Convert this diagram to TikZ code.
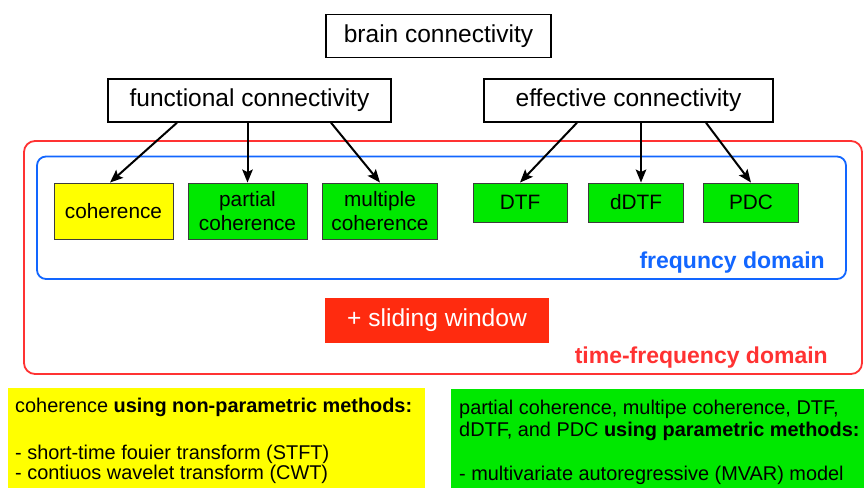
\documentclass[tikz,border=0pt]{standalone}
\usepackage{fontspec}
\setmainfont{Liberation Sans}
\usetikzlibrary{arrows.meta,calc}
\definecolor{boxgreen}{RGB}{0,232,0}
\definecolor{boxyellow}{RGB}{255,255,0}
\definecolor{outred}{RGB}{255,50,50}
\definecolor{inblue}{RGB}{18,102,255}
\definecolor{slidered}{RGB}{255,43,15}
\definecolor{edgegray}{RGB}{60,60,60}
\begin{document}
\begin{tikzpicture}[x=1pt,y=-1pt,
  topbox/.style={draw=black, line width=1.4pt, fill=white, inner sep=0pt,
    font=\fontsize{24.5}{28}\selectfont, minimum height=43pt},
  colbox/.style={draw=edgegray, line width=0.9pt, inner sep=0pt, align=center,
    font=\fontsize{20.8}{24}\selectfont},
  arr/.style={-{Stealth[length=13pt,width=10.5pt,inset=2.5pt]}, line width=2pt},
  domlabel/.style={font=\bfseries\fontsize{23}{27}\selectfont, inner sep=0pt, anchor=base east},
  btxt/.style={font=\fontsize{19.9}{24}\selectfont, inner sep=0pt, anchor=base west}
]
\useasboundingbox (0,0) rectangle (867,488);

% containers
\draw[outred, line width=1.8pt, rounded corners=11pt] (24,141) rectangle (862,374);
\draw[inblue, line width=1.8pt, rounded corners=9pt] (37,156.5) rectangle (846,279);

% top boxes
\node[topbox, minimum width=225pt] (brain) at (438.5,36) {brain connectivity};
\node[topbox, minimum width=283pt] (func) at (249.5,100.5) {functional connectivity};
\node[topbox, minimum width=289pt] (eff) at (628.5,100.5) {effective connectivity};

% method boxes
\node[colbox, fill=boxyellow, minimum width=119pt, minimum height=56pt] (coh) at (113.5,211) {coherence};
\node[colbox, fill=boxgreen, minimum width=119pt, minimum height=56pt] (part) at (247.5,211) {partial\\coherence};
\node[colbox, fill=boxgreen, minimum width=115pt, minimum height=56pt] (mult) at (380,211) {multiple\\coherence};
\node[colbox, fill=boxgreen, minimum width=94pt, minimum height=39pt] (dtf) at (520,202.5) {DTF};
\node[colbox, fill=boxgreen, minimum width=95pt, minimum height=39pt] (ddtf) at (636,202.5) {dDTF};
\node[colbox, fill=boxgreen, minimum width=95pt, minimum height=39pt] (pdc) at (751,202.5) {PDC};

% arrows
\draw[arr] ([xshift=-72.5pt]func.south) -- ([xshift=-3.5pt]coh.north);
\draw[arr] (func.south -| part.north) -- (part.north);
\draw[arr] ([xshift=81.5pt]func.south) -- (mult.north);
\draw[arr] ([xshift=-51.5pt]eff.south) -- (dtf.north);
\draw[arr] ([xshift=12.5pt]eff.south) -- ([xshift=5pt]ddtf.north);
\draw[arr] ([xshift=77.5pt]eff.south) -- (pdc.north);

% domain labels
\node[domlabel, text=inblue] (freq) at (825,268) {frequncy domain};
\node[domlabel, text=outred] (tfd) at (828,363) {time-frequency domain};

% sliding window
\node[fill=slidered, text=white, minimum width=224pt, minimum height=45pt, inner sep=0pt,
  font=\fontsize{24.6}{28}\selectfont] (slide) at (437,320.5) {+ sliding window};

% bottom notes
\fill[boxyellow] (8,388) rectangle (425,488);
\fill[boxgreen] (451,389) rectangle (864,488);
\node[btxt] (y1) at (15,412) {coherence \textbf{using non-parametric methods:}};
\node[btxt] (y2) at (15,459) {- short-time fouier transform (STFT)};
\node[btxt] (y3) at (15,479) {- contiuos wavelet transform (CWT)};
\node[btxt] (g1) at (459,414) {partial coherence, multipe coherence, DTF,};
\node[btxt] (g2) at (459,436) {dDTF, and PDC \textbf{using parametric methods:}};
\node[btxt] (g3) at (459,480) {- multivariate autoregressive (MVAR) model};
\end{tikzpicture}
\end{document}
